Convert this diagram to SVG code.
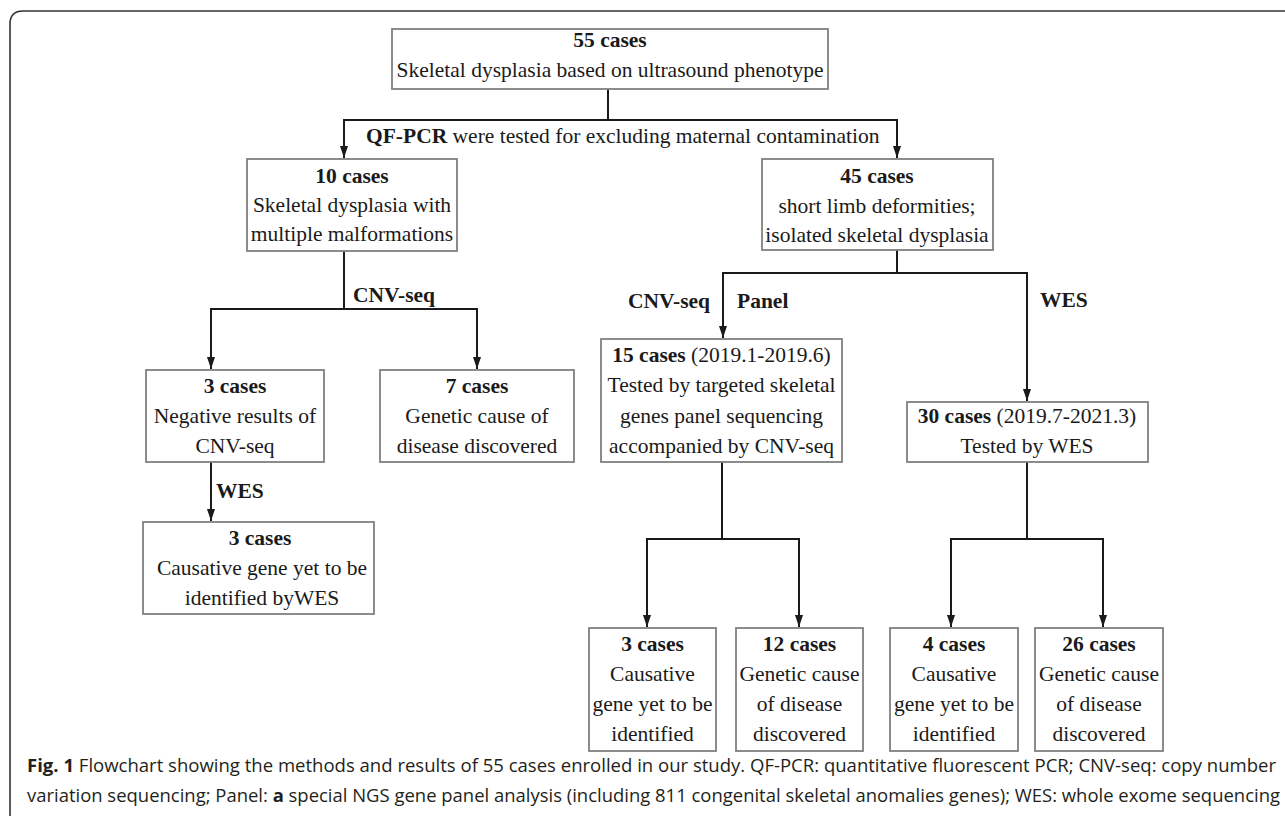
<svg xmlns="http://www.w3.org/2000/svg" width="1285" height="816" viewBox="0 0 1285 816">
<style>
.bg{fill:#ffffff}
.box{fill:#ffffff;stroke:#808080;stroke-width:1.8}
.t{font-family:"Liberation Serif","Times New Roman",serif;font-size:21.5px;fill:#1a1a1a;text-anchor:middle}
.b{font-weight:bold}
.lbl{font-family:"Liberation Serif","Times New Roman",serif;font-size:21.5px;fill:#1a1a1a}
.c{fill:none;stroke:#1a1a1a;stroke-width:2}
.frame{fill:none;stroke:#333333;stroke-width:1.6}
.cap{font-family:"Open Sans","Liberation Sans",sans-serif;font-size:18.5px;fill:#231f20}
</style>
<defs>
<marker id="ah" markerUnits="userSpaceOnUse" markerWidth="12" markerHeight="8" refX="12" refY="4" orient="auto">
<path d="M0,0 L12,4 L0,8 z" fill="#1a1a1a"/>
</marker>
</defs>
<rect class="bg" x="0" y="0" width="1285" height="816"/>
<path class="frame" d="M10,816 V24 Q10,11 23,11 H1285"/>

<g id="connectors">
<path class="c" d="M608,89 V120"/>
<path class="c" d="M608,120 H344 V158" marker-end="url(#ah)"/>
<path class="c" d="M608,120 H897 V158" marker-end="url(#ah)"/>
<path class="c" d="M344,251 V309"/>
<path class="c" d="M344,309 H211 V369" marker-end="url(#ah)"/>
<path class="c" d="M344,309 H477 V369" marker-end="url(#ah)"/>
<path class="c" d="M211,462 V521" marker-end="url(#ah)"/>
<path class="c" d="M897,250 V273"/>
<path class="c" d="M897,273 H723 V338" marker-end="url(#ah)"/>
<path class="c" d="M897,273 H1027 V401" marker-end="url(#ah)"/>
<path class="c" d="M722,462 V539"/>
<path class="c" d="M722,539 H647 V627" marker-end="url(#ah)"/>
<path class="c" d="M722,539 H799 V627" marker-end="url(#ah)"/>
<path class="c" d="M1027,462 V539"/>
<path class="c" d="M1027,539 H951 V627" marker-end="url(#ah)"/>
<path class="c" d="M1027,539 H1103 V627" marker-end="url(#ah)"/>
</g>

<g id="labels">
<text class="lbl" x="366" y="143"><tspan class="b">QF-PCR</tspan> were tested for excluding maternal contamination</text>
<text class="lbl b" x="353" y="302">CNV-seq</text>
<text class="lbl b" x="628" y="308">CNV-seq</text>
<text class="lbl b" x="737" y="308">Panel</text>
<text class="lbl b" x="1040" y="307">WES</text>
<text class="lbl b" x="216" y="498">WES</text>
</g>

<g id="n55">
<rect class="box" x="392" y="29" width="436" height="60"/>
<text class="t b" x="610" y="47">55 cases</text>
<text class="t" x="610" y="77">Skeletal dysplasia based on ultrasound phenotype</text>
</g>

<g id="n10">
<rect class="box" x="247" y="159" width="210" height="92"/>
<text class="t b" x="352" y="183">10 cases</text>
<text class="t" x="352" y="212">Skeletal dysplasia with</text>
<text class="t" x="352" y="241">multiple malformations</text>
</g>

<g id="n45">
<rect class="box" x="762" y="159" width="231" height="91"/>
<text class="t b" x="877" y="183">45 cases</text>
<text class="t" x="877" y="213">short limb deformities;</text>
<text class="t" x="877" y="242">isolated skeletal dysplasia</text>
</g>

<g id="n3a">
<rect class="box" x="146" y="370" width="178" height="92"/>
<text class="t b" x="235" y="393">3 cases</text>
<text class="t" x="235" y="423">Negative results of</text>
<text class="t" x="235" y="453">CNV-seq</text>
</g>

<g id="n7">
<rect class="box" x="380" y="370" width="194" height="92"/>
<text class="t b" x="477" y="393">7 cases</text>
<text class="t" x="477" y="423">Genetic cause of</text>
<text class="t" x="477" y="453">disease discovered</text>
</g>

<g id="n3b">
<rect class="box" x="143" y="522" width="231" height="92"/>
<text class="t b" x="260" y="545">3 cases</text>
<text class="t" x="262" y="575">Causative gene yet to be</text>
<text class="t" x="262" y="605">identified byWES</text>
</g>

<g id="n15">
<rect class="box" x="601" y="339" width="241" height="123"/>
<text class="t" x="721.5" y="362"><tspan class="b">15 cases</tspan> (2019.1-2019.6)</text>
<text class="t" x="721.5" y="392">Tested by targeted skeletal</text>
<text class="t" x="721.5" y="423">genes panel sequencing</text>
<text class="t" x="721.5" y="453">accompanied by CNV-seq</text>
</g>

<g id="n30">
<rect class="box" x="907" y="402" width="241" height="60"/>
<text class="t" x="1027" y="423"><tspan class="b">30 cases</tspan> (2019.7-2021.3)</text>
<text class="t" x="1027" y="453">Tested by WES</text>
</g>

<g id="n3c">
<rect class="box" x="589" y="628" width="127" height="123"/>
<text class="t b" x="652.5" y="651">3 cases</text>
<text class="t" x="652.5" y="681">Causative</text>
<text class="t" x="652.5" y="711">gene yet to be</text>
<text class="t" x="652.5" y="741">identified</text>
</g>

<g id="n12">
<rect class="box" x="736" y="628" width="127" height="123"/>
<text class="t b" x="799.5" y="651">12 cases</text>
<text class="t" x="799.5" y="681">Genetic cause</text>
<text class="t" x="799.5" y="711">of disease</text>
<text class="t" x="799.5" y="741">discovered</text>
</g>

<g id="n4">
<rect class="box" x="890" y="628" width="128" height="123"/>
<text class="t b" x="954" y="651">4 cases</text>
<text class="t" x="954" y="681">Causative</text>
<text class="t" x="954" y="711">gene yet to be</text>
<text class="t" x="954" y="741">identified</text>
</g>

<g id="n26">
<rect class="box" x="1035" y="628" width="128" height="123"/>
<text class="t b" x="1099" y="651">26 cases</text>
<text class="t" x="1099" y="681">Genetic cause</text>
<text class="t" x="1099" y="711">of disease</text>
<text class="t" x="1099" y="741">discovered</text>
</g>

<g id="caption">
<text class="cap" x="27" y="772" textLength="1249" lengthAdjust="spacingAndGlyphs"><tspan font-weight="bold">Fig. 1</tspan>  Flowchart showing the methods and results of 55 cases enrolled in our study. QF-PCR: quantitative fluorescent PCR; CNV-seq: copy number</text>
<text class="cap" x="27" y="802" textLength="1253" lengthAdjust="spacingAndGlyphs">variation sequencing; Panel: <tspan font-weight="bold">a</tspan> special NGS gene panel analysis (including 811 congenital skeletal anomalies genes); WES: whole exome sequencing</text>
</g>
</svg>
